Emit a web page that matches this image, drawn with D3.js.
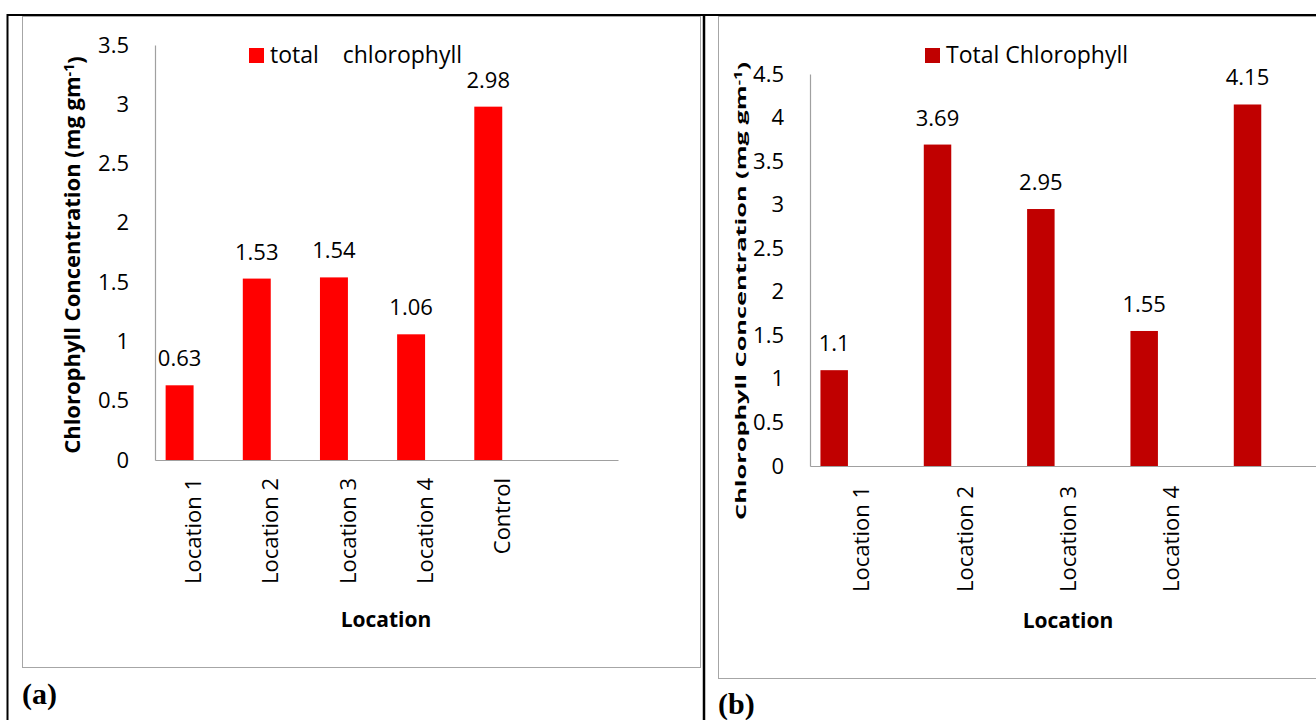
<!DOCTYPE html>
<html>
<head>
<meta charset="utf-8">
<script src="https://cdn.jsdelivr.net/npm/d3@7"></script>
<style>
  html, body { margin: 0; padding: 0; background: #fff; }
  svg { display: block; }
  text { font-family: "Open Sans", sans-serif; fill: #000; }
</style>
</head>
<body>
<svg id="chart" width="1316" height="720"></svg>
<script>
// ---- data ----
const categoriesA = ["Location 1", "Location 2", "Location 3", "Location 4", "Control"];
const valuesA = [0.63, 1.53, 1.54, 1.06, 2.98];
const tickLabelsA = ["Location 1", "Location 2", "Location 3", "Location 4", "Control"];
const yTicksA = [0, 0.5, 1, 1.5, 2, 2.5, 3, 3.5];
const legendA = "total    chlorophyll";

const categoriesB = ["Location 1", "Location 2", "Location 3", "Location 4", "Control"];
const valuesB = [1.1, 3.69, 2.95, 1.55, 4.15];
const tickLabelsB = ["Location 1", "Location 2", "Location 3", "Location 4", ""];
const yTicksB = [0, 0.5, 1, 1.5, 2, 2.5, 3, 3.5, 4, 4.5];
const legendB = "Total Chlorophyll";

const yTitle = "Chlorophyll Concentration (mg gm";
const xTitle = "Location";

const svg = d3.select("#chart");

// ---- frame (table borders) ----
svg.append("line").attr("x1", 7).attr("x2", 1316).attr("y1", 15).attr("y2", 15)
  .attr("stroke", "#000").attr("stroke-width", 2);
svg.append("line").attr("x1", 7.5).attr("x2", 7.5).attr("y1", 14).attr("y2", 720)
  .attr("stroke", "#000").attr("stroke-width", 2);
svg.append("line").attr("x1", 704).attr("x2", 704).attr("y1", 14).attr("y2", 720)
  .attr("stroke", "#000").attr("stroke-width", 2.5);

// chart area boxes
svg.append("rect").attr("x", 22.5).attr("y", 16.5).attr("width", 678).attr("height", 651)
  .attr("fill", "none").attr("stroke", "#a6a6a6").attr("stroke-width", 1);
svg.append("rect").attr("x", 718.5).attr("y", 16.5).attr("width", 700).attr("height", 662)
  .attr("fill", "none").attr("stroke", "#a6a6a6").attr("stroke-width", 1);

// panel labels
svg.append("text").attr("x", 22).attr("y", 704).text("(a)")
  .style("font-family", "'Liberation Serif', 'Times New Roman', serif")
  .style("font-weight", "bold").style("font-size", "30px");
svg.append("text").attr("x", 718).attr("y", 714).text("(b)")
  .style("font-family", "'Liberation Serif', 'Times New Roman', serif")
  .style("font-weight", "bold").style("font-size", "30px");

function drawPanel(cfg) {
  const g = svg.append("g");
  // band domain includes one empty trailing slot, as in the source chart
  const x = d3.scaleBand().domain(cfg.categories.concat(["__empty__"]))
    .range([cfg.x0, cfg.x1]).paddingInner(0).paddingOuter(0);
  const slot = d3.scaleBand().domain(d3.range(cfg.slots))
    .range([0, x.bandwidth()]).paddingInner(0).paddingOuter(0.38);
  const y = d3.scaleLinear().domain([0, d3.max(cfg.yTicks)]).range([cfg.y0, cfg.yTop]);

  // bars
  g.selectAll("rect.bar").data(cfg.values).enter().append("rect")
    .attr("class", "bar")
    .attr("x", (d, i) => x(cfg.categories[i]) + slot(0))
    .attr("width", slot.bandwidth())
    .attr("y", d => y(d))
    .attr("height", d => y(0) - y(d))
    .attr("fill", cfg.color);

  // data labels
  g.selectAll("text.lbl").data(cfg.values).enter().append("text")
    .attr("class", "lbl")
    .attr("x", (d, i) => x(cfg.categories[i]) + slot(0) + slot.bandwidth() / 2)
    .attr("y", d => y(d) - 19)
    .attr("text-anchor", "middle")
    .style("font-size", "22px")
    .text(d => String(d));

  // y axis
  const ya = g.append("g").attr("transform", `translate(${cfg.x0},0)`)
    .call(d3.axisLeft(y).tickValues(cfg.yTicks).tickSize(0).tickPadding(26)
      .tickFormat(d3.format("~g")));
  ya.select(".domain").attr("stroke", "#a0a0a0").attr("stroke-width", 1.2);
  ya.selectAll("text").style("font-family", "'Open Sans', sans-serif").style("font-size", "22px");

  // x axis
  const xa = g.append("g").attr("transform", `translate(0,${cfg.y0})`)
    .call(d3.axisBottom(x).tickSize(0).tickSizeOuter(0)
      .tickFormat(c => { const i = cfg.categories.indexOf(c); return i < 0 ? "" : cfg.tickLabels[i]; }));
  xa.select(".domain").attr("stroke", "#a0a0a0").attr("stroke-width", 1.2);
  xa.selectAll(".tick text")
    .attr("transform", "rotate(-90)")
    .attr("text-anchor", "end")
    .attr("x", -cfg.tickGap)
    .attr("y", 0)
    .attr("dy", "0.35em")
    .style("font-family", "'Open Sans', sans-serif")
    .style("font-size", "22px");

  // x title
  g.append("text").attr("x", cfg.xTitleX).attr("y", cfg.xTitleY)
    .attr("text-anchor", "middle").style("font-weight", "bold").style("font-size", "21px")
    .text(xTitle);

  // y title
  const yt = g.append("text")
    .attr("transform", `translate(${cfg.yTitleX},${cfg.yTitleY}) rotate(-90)`)
    .attr("text-anchor", "middle")
    .style("font-weight", "bold").style("font-size", cfg.yTitleSize + "px");
  if (cfg.yTitleLen) {
    yt.attr("textLength", cfg.yTitleLen).attr("lengthAdjust", "spacingAndGlyphs");
  }
  yt.append("tspan").text(yTitle);
  yt.append("tspan").attr("dy", "-0.45em").style("font-size", (cfg.yTitleSize * 0.65) + "px").text("-1");
  yt.append("tspan").attr("dy", "0.45em").text(")");

  // legend
  g.append("rect").attr("x", cfg.legX).attr("y", cfg.legY).attr("width", 15).attr("height", 15)
    .attr("fill", cfg.color);
  g.append("text").attr("x", cfg.legX + 21).attr("y", cfg.legY + 15)
    .style("font-size", "23px").style("white-space", "pre").attr("xml:space", "preserve")
    .text(cfg.legend);
}

drawPanel({
  categories: categoriesA, values: valuesA, tickLabels: tickLabelsA, yTicks: yTicksA,
  legend: legendA, color: "#ff0000", slots: 2,
  x0: 155, x1: 618, y0: 460, yTop: 45, tickGap: 18,
  xTitleX: 386, xTitleY: 627,
  yTitleX: 80, yTitleY: 255, yTitleSize: 22, yTitleLen: null,
  legX: 249, legY: 48
});

drawPanel({
  categories: categoriesB, values: valuesB, tickLabels: tickLabelsB, yTicks: yTicksB,
  legend: legendB, color: "#c00000", slots: 3,
  x0: 810, x1: 1430, y0: 466, yTop: 74, tickGap: 20,
  xTitleX: 1068, xTitleY: 628,
  yTitleX: 746, yTitleY: 291, yTitleSize: 15, yTitleLen: 458,
  legX: 925, legY: 48
});
</script>
</body>
</html>
